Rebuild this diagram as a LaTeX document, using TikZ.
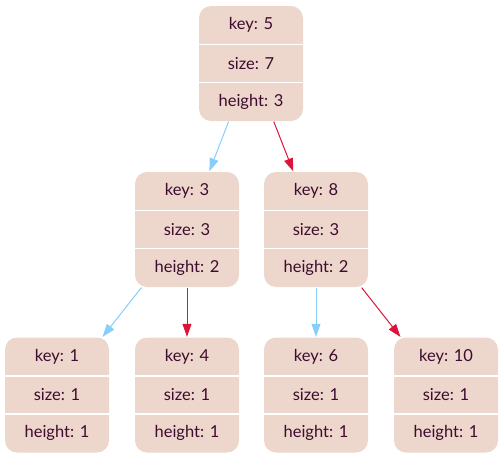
\documentclass[tikz,border=0pt]{standalone}
\usepackage{fontspec}
\setmainfont{Lato}
\usetikzlibrary{arrows.meta}
\definecolor{boxfill}{HTML}{EDD6CB}
\definecolor{txt}{HTML}{3D0C2E}
\definecolor{lblue}{HTML}{87CEFA}
\definecolor{crim}{HTML}{DC143C}
\tikzset{
  treebox/.style={rectangle, rounded corners=12pt, fill=boxfill, draw=none,
    minimum width=104pt, minimum height=115pt, inner sep=0pt},
  celltext/.style={text=txt, font=\fontsize{16.5}{19}\selectfont, inner sep=0pt},
  sepline/.style={white, line width=1.5pt},
  leftedge/.style={lblue, line width=1pt, -{Triangle[length=13pt,width=9pt]}, shorten >=0.5pt, shorten <=0.5pt},
  rightedge/.style={crim, line width=1pt, -{Triangle[length=13pt,width=9pt]}, shorten >=0.5pt, shorten <=0.5pt},
}
\newcommand{\treenode}[5]{%
  \node[treebox] (#1) at (#2) {};
  \draw[sepline] ([yshift=19.2pt]#1.west) -- ([yshift=19.2pt]#1.east);
  \draw[sepline] ([yshift=-19.2pt]#1.west) -- ([yshift=-19.2pt]#1.east);
  \node[celltext] (#1k) at ([yshift=38.3pt]#1.center) {key: #3};
  \node[celltext] (#1s) at (#1.center) {size: #4};
  \node[celltext] (#1h) at ([yshift=-38.3pt]#1.center) {height: #5};
}
\begin{document}
\begin{tikzpicture}[x=1pt,y=1pt]
\useasboundingbox (0,0) rectangle (504,-459);
\treenode{n5}{251,-63.5}{5}{7}{3}
\treenode{n3}{187,-229.5}{3}{3}{2}
\treenode{n8}{316,-229.5}{8}{3}{2}
\treenode{n1}{57,-395}{1}{1}{1}
\treenode{n4}{187,-395}{4}{1}{1}
\treenode{n6}{316,-395}{6}{1}{1}
\treenode{n10}{446,-395}{10}{1}{1}
\draw[leftedge] (n5) -- (n3);
\draw[rightedge] (n5) -- (n8);
\draw[leftedge] (n3) -- (n1);
\draw[rightedge] (n3) -- (n4);
\draw[leftedge] (n8) -- (n6);
\draw[rightedge] (n8) -- (n10);
\end{tikzpicture}
\end{document}
